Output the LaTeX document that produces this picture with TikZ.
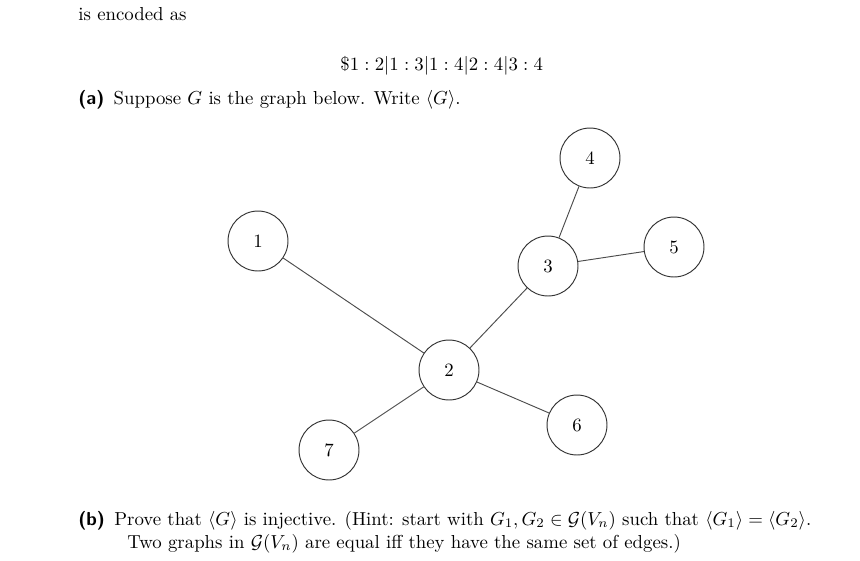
\documentclass[tikz,border=0pt]{standalone}
\usetikzlibrary{positioning}

\begin{document}
\begin{tikzpicture}[
  x=0.532pt, y=-0.532pt,
  vert/.style={draw=black!80, circle, line width=0.5pt, minimum size=31.9pt, inner sep=0pt},
  edge/.style={draw=black!70, line width=0.5pt},
  txt/.style={anchor=base west, inner sep=0pt}
]
\useasboundingbox (0,0) rectangle (860,560);
% text above the graph
\node[txt] (enc) at (78,20) {is encoded as};
\node[txt] (code) at (340,70) {\(\$1 : 2|1 : 3|1 : 4|2 : 4|3 : 4\)};
\node[txt] (parta) at (78,104) {\textsf{\textbf{(a)}}\hspace{5pt}Suppose \(G\) is the graph below. Write \(\langle G\rangle\).};
% the graph
\node[vert] (v1) at (258,241) {1};
\node[vert] (v2) at (449,370) {2};
\node[vert] (v3) at (548,266) {3};
\node[vert] (v4) at (590,158) {4};
\node[vert] (v5) at (674,247) {5};
\node[vert] (v6) at (577,425) {6};
\node[vert] (v7) at (329,450) {7};
\draw[edge] (v1) -- (v2);
\draw[edge] (v2) -- (v3);
\draw[edge] (v3) -- (v4);
\draw[edge] (v3) -- (v5);
\draw[edge] (v2) -- (v6);
\draw[edge] (v2) -- (v7);
% part (b)
\node[txt] (partb) at (78,525) {\textsf{\textbf{(b)}}\hspace{5pt}Prove that \(\langle G\rangle\) is injective. (Hint: start with \(G_1, G_2 \in \mathcal{G}(V_n)\) such that \(\langle G_1\rangle = \langle G_2\rangle\).};
\node[txt] (partb2) at (127,548) {Two graphs in \(\mathcal{G}(V_n)\) are equal iff they have the same set of edges.)};
\end{tikzpicture}
\end{document}
